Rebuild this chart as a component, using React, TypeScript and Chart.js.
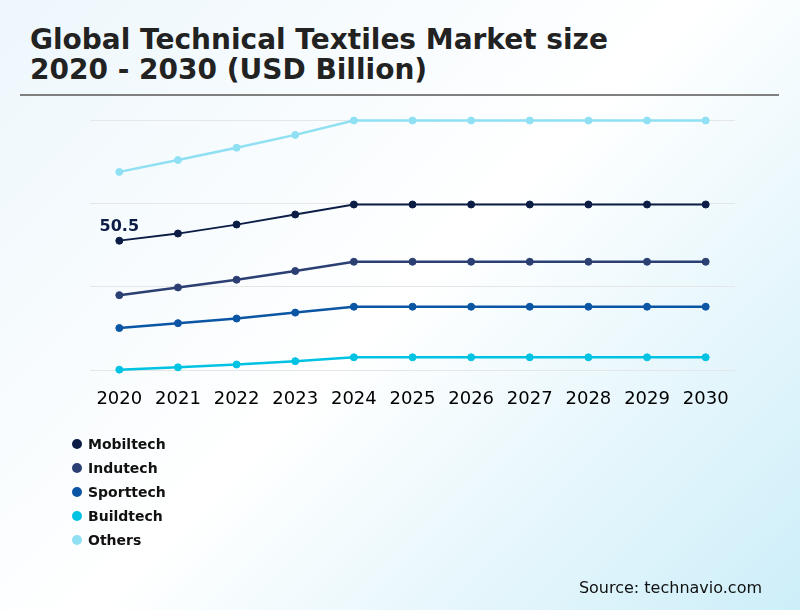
import React, { useEffect, useRef } from "react";
import { Chart, registerables } from "chart.js";

Chart.register(...registerables);

const years = ["2020", "2021", "2022", "2023", "2024", "2025", "2026", "2027", "2028", "2029", "2030"];
const mobiltech = [50.5, 53.3, 56.8, 60.7, 64.6, 64.6, 64.6, 64.6, 64.6, 64.6, 64.6];
const indutech = [29.3, 32.3, 35.3, 38.7, 42.3, 42.3, 42.3, 42.3, 42.3, 42.3, 42.3];
const sporttech = [16.5, 18.4, 20.2, 22.5, 24.8, 24.8, 24.8, 24.8, 24.8, 24.8, 24.8];
const buildtech = [0.3, 1.2, 2.3, 3.6, 5.1, 5.1, 5.1, 5.1, 5.1, 5.1, 5.1];
const others = [77.3, 81.9, 86.7, 91.7, 97.3, 97.3, 97.3, 97.3, 97.3, 97.3, 97.3];

const seriesNames = ["Mobiltech", "Indutech", "Sporttech", "Buildtech", "Others"];
const seriesValues = [mobiltech, indutech, sporttech, buildtech, others];
const seriesColors = ["#0b1d45", "#2b3f72", "#0a55a4", "#00c2e3", "#8fe0f3"];
const seriesWidths = [1.8, 2.5, 2.5, 2.5, 2.5];

const yMin = 0;
const yMax = 97.5;
const yStep = 32.5;

const titleLines = ["Global Technical Textiles Market size", "2020 - 2030 (USD Billion)"];
const sourceText = "Source: technavio.com";

const FONT = "'DejaVu Sans', sans-serif";

const firstValueLabel = {
  id: "firstValueLabel",
  afterDatasetsDraw(chart: any) {
    const meta = chart.getDatasetMeta(0);
    const pt = meta.data[0];
    if (!pt) return;
    const ctx = chart.ctx;
    ctx.save();
    ctx.font = `bold 16px ${FONT}`;
    ctx.fillStyle = seriesColors[0];
    ctx.textAlign = "center";
    ctx.textBaseline = "alphabetic";
    ctx.fillText(String(mobiltech[0]), pt.x, pt.y - 10);
    ctx.restore();
  },
};

export default function App() {
  const canvasRef = useRef<HTMLCanvasElement | null>(null);

  useEffect(() => {
    document.body.style.margin = "0";
    const canvas = canvasRef.current;
    if (!canvas) return;
    const chart = new Chart(canvas, {
      type: "line",
      data: {
        labels: years,
        datasets: seriesNames.map((name, i) => ({
          label: name,
          data: seriesValues[i],
          borderColor: seriesColors[i],
          backgroundColor: seriesColors[i],
          pointBackgroundColor: seriesColors[i],
          pointBorderColor: seriesColors[i],
          borderWidth: seriesWidths[i],
          pointRadius: 3.5,
          pointBorderWidth: 1,
          tension: 0,
          fill: false,
          clip: false as any,
        })),
      },
      options: {
        animation: false,
        responsive: false,
        maintainAspectRatio: false,
        layout: { padding: { left: 90, right: 65, top: 120, bottom: 190 } },
        plugins: {
          legend: { display: false },
          tooltip: { enabled: false },
          title: { display: false },
        },
        scales: {
          x: {
            offset: true,
            grid: { display: false },
            border: { display: false },
            ticks: {
              color: "#000000",
              font: { family: FONT, size: 18 },
              padding: 10,
              maxRotation: 0,
              autoSkip: false,
            },
          },
          y: {
            min: yMin,
            max: yMax,
            grid: { color: "#e4e6e8", lineWidth: 1, drawTicks: false },
            border: { display: false },
            ticks: { display: false, stepSize: yStep },
          },
        },
      },
      plugins: [firstValueLabel],
    });
    return () => chart.destroy();
  }, []);

  return (
    <div
      style={{
        position: "fixed",
        left: 0,
        top: 0,
        width: 800,
        height: 610,
        overflow: "hidden",
        background: "linear-gradient(135deg, #edf7fc 0%, #ffffff 50%, #cdeef9 100%)",
        fontFamily: FONT,
      }}
    >
      <div
        style={{
          position: "absolute",
          left: 30,
          top: 25,
          fontSize: 28,
          fontWeight: "bold",
          lineHeight: "30px",
          color: "#222222",
          whiteSpace: "nowrap",
        }}
      >
        {titleLines.map((t) => (
          <div key={t}>{t}</div>
        ))}
      </div>
      <div
        style={{
          position: "absolute",
          left: 20,
          top: 94,
          width: 759,
          height: 2,
          background: "#808080",
        }}
      />
      <canvas
        ref={canvasRef}
        width={800}
        height={610}
        style={{ position: "absolute", left: 0, top: 0, width: 800, height: 610 }}
      />
      <div style={{ position: "absolute", left: 72, top: 432 }}>
        {seriesNames.map((name, i) => (
          <div
            key={name}
            style={{ display: "flex", alignItems: "center", height: 24 }}
          >
            <span
              style={{
                display: "inline-block",
                width: 10,
                height: 10,
                borderRadius: 5,
                background: seriesColors[i],
                marginRight: 6,
              }}
            />
            <span style={{ fontSize: 14, fontWeight: "bold", color: "#111111" }}>{name}</span>
          </div>
        ))}
      </div>
      <div
        style={{
          position: "absolute",
          right: 38,
          top: 578,
          fontSize: 16,
          color: "#111111",
          whiteSpace: "nowrap",
        }}
      >
        {sourceText}
      </div>
    </div>
  );
}
